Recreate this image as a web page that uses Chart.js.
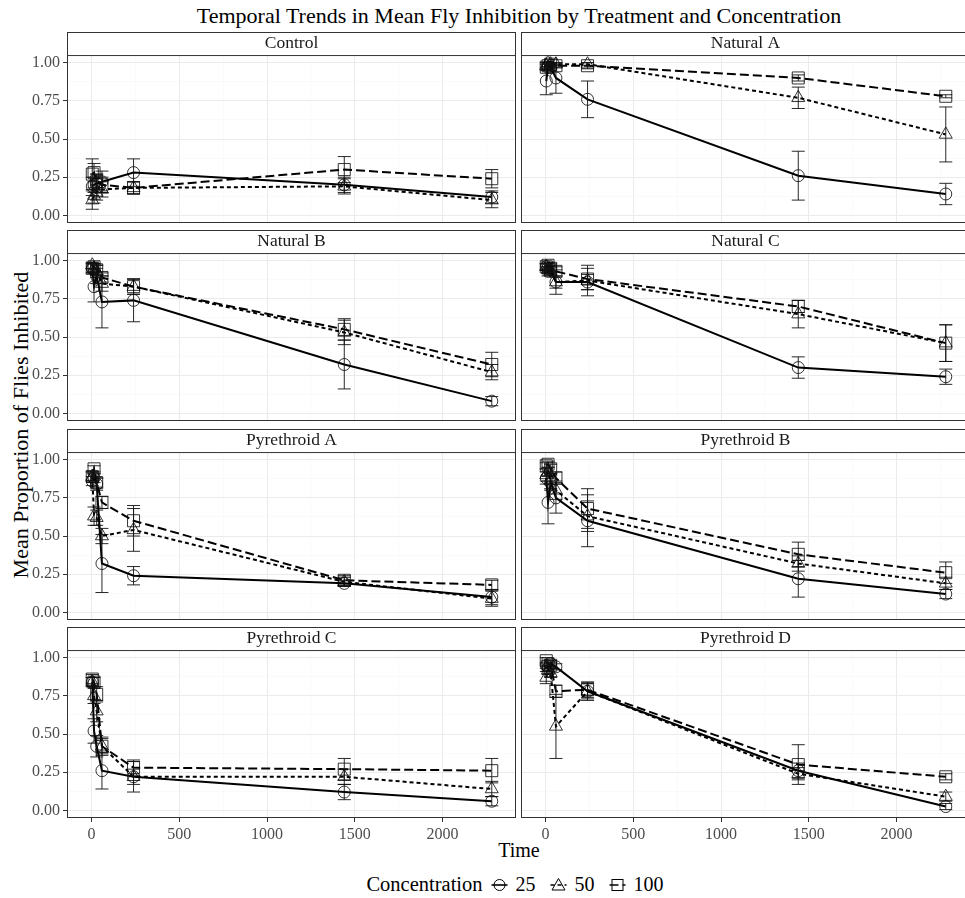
<!DOCTYPE html>
<html>
<head>
<meta charset="utf-8">
<script src="https://cdn.jsdelivr.net/npm/chart.js@4.4.1/dist/chart.umd.min.js"></script>
<style>
  html, body { margin: 0; padding: 0; background: #fff; }
  body { width: 965px; height: 898px; position: relative; overflow: hidden;
         font-family: "Liberation Serif", "Times New Roman", serif; color: #000; }
  canvas.panel { position: absolute; }
  #title { position: absolute; left: 67px; width: 904px; top: 3px; text-align: center; font-size: 22px; }
  #ylab { position: absolute; left: 21px; top: 425px; transform: translate(-50%, -50%) rotate(-90deg);
          white-space: nowrap; font-size: 22px; }
  #xlab { position: absolute; left: 67px; width: 904px; top: 839px; text-align: center; font-size: 20px; }
  #legend { position: absolute; left: 63px; width: 904px; top: 873px; display: flex;
            justify-content: center; align-items: center; font-size: 20px; }
  #legend, #legend span { font-family: "Liberation Serif", "Times New Roman", serif; }
  #legend .title { font-size: 20.5px; margin-right: 8px; }
  #legend .key { display: inline-flex; align-items: center; margin-right: 14px; }
  #legend .key:last-child { margin-right: 0; }
  #legend svg { margin-right: 8px; }
</style>
</head>
<body>
<div id="title">Temporal Trends in Mean Fly Inhibition by Treatment and Concentration</div>
<div id="ylab">Mean Proportion of Flies Inhibited</div>
<div id="xlab">Time</div>
<div id="legend"></div>

<script>
// ================= DATA =================

const times = [5, 15, 30, 60, 240, 1440, 2280];
const concentrations = ["25", "50", "100"];
const treatments = ["Control", "Natural A", "Natural B", "Natural C",
                    "Pyrethroid A", "Pyrethroid B", "Pyrethroid C", "Pyrethroid D"];

const xTicks = [0, 500, 1000, 1500, 2000];
const xMinor = [250, 750, 1250, 1750, 2250];
const yTicks = [0, 0.25, 0.5, 0.75, 1];
const yMinor = [0.125, 0.375, 0.625, 0.875];

// rows = concentration 25, 50, 100
const controlMean = [
  [0.19, 0.20, 0.21, 0.22, 0.28, 0.20, 0.12],
  [0.10, 0.13, 0.15, 0.17, 0.18, 0.19, 0.10],
  [0.27, 0.28, 0.22, 0.20, 0.18, 0.30, 0.24]
];
const controlSE = [
  [0.06, 0.05, 0.06, 0.07, 0.09, 0.05, 0.04],
  [0.06, 0.05, 0.05, 0.05, 0.04, 0.05, 0.05],
  [0.10, 0.06, 0.05, 0.05, 0.04, 0.085, 0.06]
];

const naturalAMean = [
  [0.88, 0.97, 0.97, 0.90, 0.76, 0.26, 0.14],
  [0.98, 1.00, 0.99, 0.99, 0.99, 0.77, 0.53],
  [0.97, 0.98, 0.99, 0.98, 0.98, 0.90, 0.78]
];
const naturalASE = [
  [0.09, 0.02, 0.02, 0.10, 0.12, 0.16, 0.07],
  [0.02, 0.00, 0.01, 0.01, 0.01, 0.07, 0.18],
  [0.02, 0.02, 0.01, 0.01, 0.02, 0.02, 0.01]
];

const naturalBMean = [
  [0.95, 0.83, 0.90, 0.73, 0.74, 0.32, 0.08],
  [0.97, 0.95, 0.93, 0.85, 0.83, 0.53, 0.27],
  [0.95, 0.96, 0.94, 0.89, 0.83, 0.55, 0.32]
];
const naturalBSE = [
  [0.03, 0.10, 0.05, 0.17, 0.14, 0.16, 0.03],
  [0.02, 0.03, 0.04, 0.05, 0.05, 0.08, 0.05],
  [0.03, 0.02, 0.03, 0.03, 0.05, 0.07, 0.08]
];

const naturalCMean = [
  [0.96, 0.93, 0.95, 0.86, 0.86, 0.30, 0.24],
  [0.96, 0.94, 0.93, 0.86, 0.87, 0.65, 0.46],
  [0.96, 0.97, 0.95, 0.93, 0.88, 0.70, 0.46]
];
const naturalCSE = [
  [0.02, 0.03, 0.02, 0.04, 0.05, 0.07, 0.05],
  [0.02, 0.02, 0.03, 0.08, 0.10, 0.09, 0.12],
  [0.02, 0.02, 0.03, 0.03, 0.07, 0.04, 0.12]
];

const pyrethroidAMean = [
  [0.86, 0.88, 0.84, 0.32, 0.24, 0.19, 0.10],
  [0.89, 0.63, 0.62, 0.50, 0.54, 0.20, 0.09],
  [0.89, 0.94, 0.85, 0.72, 0.60, 0.21, 0.18]
];
const pyrethroidASE = [
  [0.03, 0.03, 0.04, 0.19, 0.06, 0.02, 0.05],
  [0.03, 0.06, 0.05, 0.05, 0.14, 0.03, 0.05],
  [0.03, 0.02, 0.03, 0.04, 0.10, 0.03, 0.03]
];

const pyrethroidBMean = [
  [0.88, 0.72, 0.85, 0.75, 0.60, 0.22, 0.12],
  [0.90, 0.92, 0.86, 0.80, 0.63, 0.32, 0.19],
  [0.96, 0.97, 0.94, 0.88, 0.68, 0.38, 0.26]
];
const pyrethroidBSE = [
  [0.04, 0.14, 0.05, 0.10, 0.17, 0.12, 0.03],
  [0.04, 0.03, 0.05, 0.06, 0.10, 0.05, 0.04],
  [0.02, 0.02, 0.03, 0.04, 0.13, 0.08, 0.07]
];

const pyrethroidCMean = [
  [0.84, 0.52, 0.42, 0.26, 0.22, 0.12, 0.06],
  [0.84, 0.75, 0.65, 0.42, 0.22, 0.22, 0.14],
  [0.86, 0.84, 0.76, 0.42, 0.28, 0.27, 0.26]
];
const pyrethroidCSE = [
  [0.03, 0.08, 0.07, 0.12, 0.05, 0.05, 0.03],
  [0.03, 0.05, 0.07, 0.05, 0.10, 0.05, 0.05],
  [0.03, 0.03, 0.05, 0.06, 0.05, 0.07, 0.08]
];

const pyrethroidDMean = [
  [0.95, 0.93, 0.96, 0.94, 0.78, 0.26, 0.025],
  [0.87, 0.92, 0.90, 0.55, 0.78, 0.24, 0.09],
  [0.98, 0.96, 0.95, 0.78, 0.79, 0.30, 0.22]
];
const pyrethroidDSE = [
  [0.02, 0.02, 0.02, 0.02, 0.05, 0.05, 0.02],
  [0.04, 0.03, 0.03, 0.21, 0.06, 0.04, 0.03],
  [0.02, 0.02, 0.02, 0.04, 0.05, 0.13, 0.02]
];

const means = [controlMean, naturalAMean, naturalBMean, naturalCMean,
               pyrethroidAMean, pyrethroidBMean, pyrethroidCMean, pyrethroidDMean];
const errors = [controlSE, naturalASE, naturalBSE, naturalCSE,
                pyrethroidASE, pyrethroidBSE, pyrethroidCSE, pyrethroidDSE];

// ================= STYLE =================

const SERIF = "'Liberation Serif', 'Times New Roman', serif";
const shapes = ["circle", "triangle", "rect"];
const radii = [6, 7.5, 8.5];
const dashes = [[], [4, 3], [9, 4]];

const PLOT_W = 449;
const PLOT_H = 168;
const STRIP_H = 23;

// ================= PLUGINS =================

const stripPlugin = {
  id: "strip",
  beforeDraw(chart) {
    const { ctx, chartArea: a } = chart;
    const t = chart.titleBlock;
    ctx.save();
    ctx.fillStyle = "#ffffff";
    ctx.fillRect(a.left, t.top, a.right - a.left, t.bottom - t.top);
    ctx.restore();
  },
  afterDraw(chart) {
    const { ctx, chartArea: a } = chart;
    const t = chart.titleBlock;
    ctx.save();
    ctx.strokeStyle = "#333333";
    ctx.lineWidth = 1;
    ctx.strokeRect(a.left + 0.5, t.top + 0.5, a.right - a.left - 1, a.bottom - t.top - 1);
    ctx.beginPath();
    ctx.moveTo(a.left, a.top + 0.5);
    ctx.lineTo(a.right, a.top + 0.5);
    ctx.stroke();
    ctx.restore();
  }
};

const errorBarPlugin = {
  id: "errorBars",
  afterDatasetsDraw(chart) {
    const { ctx, chartArea: a } = chart;
    const xs = chart.scales.x, ys = chart.scales.y;
    ctx.save();
    ctx.beginPath();
    ctx.rect(a.left, a.top, a.right - a.left, a.bottom - a.top);
    ctx.clip();
    ctx.strokeStyle = "#111111";
    ctx.lineWidth = 0.9;
    chart.data.datasets.forEach(ds => {
      ds.data.forEach((p, i) => {
        const e = ds.errors[i];
        const x = xs.getPixelForValue(p.x);
        const lo = ys.getPixelForValue(p.y - e);
        const hi = ys.getPixelForValue(p.y + e);
        ctx.beginPath();
        ctx.moveTo(x, lo); ctx.lineTo(x, hi);
        ctx.moveTo(x - 6.5, lo); ctx.lineTo(x + 6.5, lo);
        ctx.moveTo(x - 6.5, hi); ctx.lineTo(x + 6.5, hi);
        ctx.stroke();
      });
    });
    ctx.restore();
  }
};

// ================= PANELS =================

function gridColor(majors) {
  return c => (c.tick && majors.includes(c.tick.value)) ? "#ebebeb" : "#f4f4f4";
}
function gridWidth(majors) {
  return c => (c.tick && majors.includes(c.tick.value)) ? 1 : 0.5;
}
function tickColor(majors) {
  return c => (c.tick && majors.includes(c.tick.value)) ? "#333333" : "rgba(0,0,0,0)";
}

function makePanel(idx) {
  const row = Math.floor(idx / 2);
  const col = idx % 2;
  const showY = col === 0;
  const showX = row === 3;
  const yAxisW = showY ? 40 : 0;
  const xAxisH = showX ? 24 : 0;

  const canvas = document.createElement("canvas");
  canvas.className = "panel";
  canvas.width = yAxisW + PLOT_W;
  canvas.height = STRIP_H + PLOT_H + xAxisH;
  canvas.style.left = (col === 0 ? 67 - yAxisW : 521) + "px";
  canvas.style.top = (32 + Math.round(198.3 * row)) + "px";
  document.body.appendChild(canvas);

  const datasets = concentrations.map((c, k) => ({
    label: c,
    data: times.map((t, i) => ({ x: t, y: means[idx][k][i] })),
    errors: errors[idx][k],
    borderColor: "#000000",
    borderWidth: 2,
    borderDash: dashes[k],
    pointStyle: shapes[k],
    pointRadius: radii[k],
    pointBorderColor: "#000000",
    pointBorderWidth: 0.8,
    pointBackgroundColor: "rgba(0,0,0,0)",
    fill: false,
    tension: 0
  }));

  new Chart(canvas, {
    type: "line",
    data: { datasets },
    options: {
      responsive: false,
      animation: false,
      layout: { padding: 0, autoPadding: false },
      plugins: {
        legend: { display: false },
        tooltip: { enabled: false },
        title: {
          display: true,
          text: treatments[idx],
          fullSize: false,
          color: "#1a1a1a",
          font: { family: SERIF, size: 17.5, weight: "normal", lineHeight: 1.1 },
          padding: { top: 2, bottom: 1.8 }
        }
      },
      scales: {
        x: {
          type: "linear",
          min: -139,
          max: 2418,
          afterBuildTicks: s => { s.ticks = xTicks.concat(xMinor).sort((a, b) => a - b).map(v => ({ value: v })); },
          afterFit: s => { s.height = xAxisH; s.paddingLeft = 0; s.paddingRight = 0; },
          border: { display: false },
          grid: {
            color: gridColor(xTicks), lineWidth: gridWidth(xTicks),
            drawTicks: showX, tickLength: 4, tickColor: tickColor(xTicks), tickWidth: 1
          },
          ticks: {
            display: showX, autoSkip: false, maxRotation: 0, padding: 3,
            color: "#4d4d4d", font: { family: SERIF, size: 16 },
            callback: v => xTicks.includes(v) ? String(v) : ""
          }
        },
        y: {
          type: "linear",
          min: -0.05,
          max: 1.05,
          afterBuildTicks: s => { s.ticks = yTicks.concat(yMinor).sort((a, b) => a - b).map(v => ({ value: v })); },
          afterFit: s => { s.width = yAxisW; s.paddingTop = 0; s.paddingBottom = 0; },
          border: { display: false },
          grid: {
            color: gridColor(yTicks), lineWidth: gridWidth(yTicks),
            drawTicks: showY, tickLength: 4, tickColor: tickColor(yTicks), tickWidth: 1
          },
          ticks: {
            display: showY, autoSkip: false, padding: 3,
            color: "#4d4d4d", font: { family: SERIF, size: 16 },
            callback: v => yTicks.includes(v) ? v.toFixed(2) : ""
          }
        }
      }
    },
    plugins: [stripPlugin, errorBarPlugin]
  });
}

// ================= LEGEND =================

function legendKey(k) {
  const dash = dashes[k].length ? `stroke-dasharray="${dashes[k].join(",")}"` : "";
  let shape;
  if (k === 0) shape = `<circle cx="8.5" cy="9" r="5.5" fill="none" stroke="#000" stroke-width="1"/>`;
  else if (k === 1) shape = `<polygon points="8.5,2.5 15,14 2,14" fill="none" stroke="#000" stroke-width="1"/>`;
  else shape = `<rect x="3" y="3.5" width="11" height="11" fill="none" stroke="#000" stroke-width="1"/>`;
  return `<span class="key"><svg width="17" height="18" viewBox="0 0 17 18">` +
         `<line x1="0.5" y1="9" x2="16.5" y2="9" stroke="#000" stroke-width="1.6" ${dash}/>${shape}</svg>` +
         `<span>${concentrations[k]}</span></span>`;
}

window.onload = () => {
  treatments.forEach((t, i) => makePanel(i));
  document.getElementById("legend").innerHTML =
    `<span class="title">Concentration</span>` + concentrations.map((c, k) => legendKey(k)).join("");
};
</script>
</body>
</html>
